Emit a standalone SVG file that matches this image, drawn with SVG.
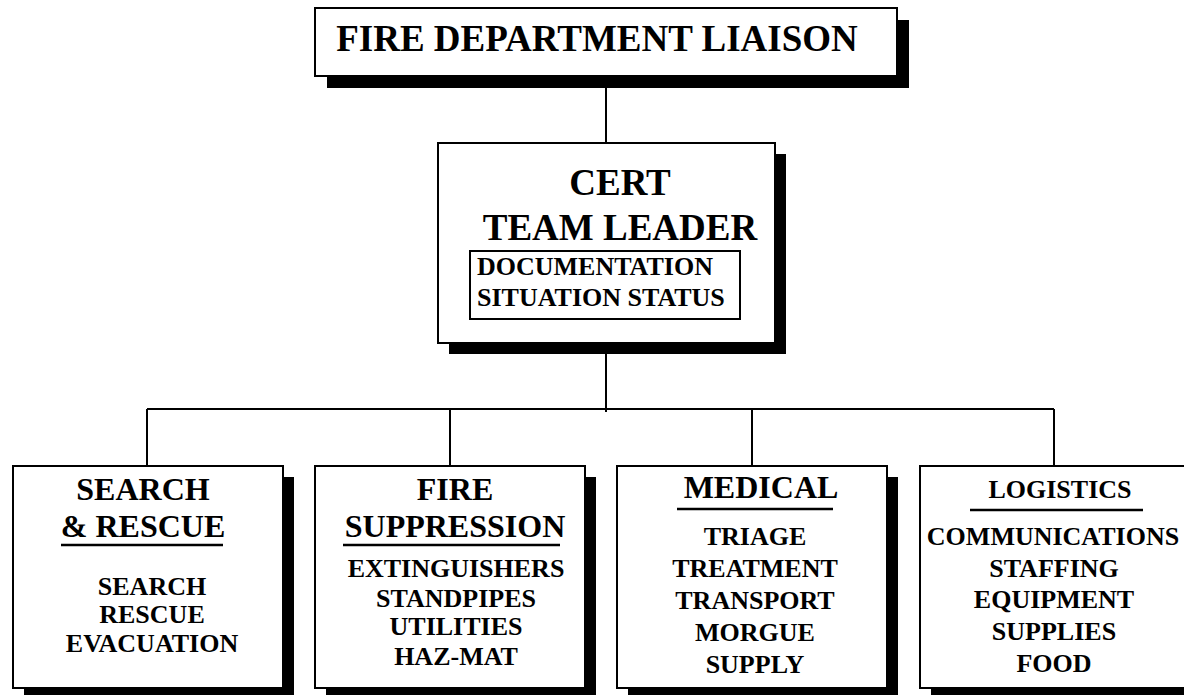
<svg xmlns="http://www.w3.org/2000/svg" width="1184" height="695" viewBox="0 0 1184 695">
<style>
.box{fill:#fff;stroke:#000;stroke-width:2}
.sh{fill:#000}
.t{font-family:"Liberation Serif","Times New Roman",serif;font-weight:bold;fill:#000}
.c{text-anchor:middle}
.h{font-size:32px}
.i{font-size:26px}
.ul{stroke:#000;stroke-width:2.5}
.ln{stroke:#000;stroke-width:2;fill:none}
</style>
<rect width="1184" height="695" fill="#fff"/>
<g id="connectors">
<line class="ln" x1="606" y1="88" x2="606" y2="143"/>
<line class="ln" x1="606" y1="354" x2="606" y2="412"/>
<line class="ln" x1="147" y1="409" x2="1054" y2="409"/>
<line class="ln" x1="147" y1="409" x2="147" y2="466"/>
<line class="ln" x1="450" y1="409" x2="450" y2="466"/>
<line class="ln" x1="752" y1="409" x2="752" y2="466"/>
<line class="ln" x1="1054" y1="409" x2="1054" y2="466"/>
</g>
<g id="liaison">
<rect class="sh" x="327" y="20" width="582" height="68"/>
<rect class="box" x="315" y="8" width="582" height="68"/>
<text class="t c" x="597" y="51" font-size="37">FIRE DEPARTMENT LIAISON</text>
</g>
<g id="leader">
<rect class="sh" x="449" y="154" width="337" height="200"/>
<rect class="box" x="438" y="143" width="337" height="200"/>
<text class="t c" x="620" y="195" font-size="37">CERT</text>
<text class="t c" x="620" y="240" font-size="37">TEAM LEADER</text>
<rect class="box" x="470" y="251" width="270" height="68"/>
<text class="t" x="477" y="275" font-size="26">DOCUMENTATION</text>
<text class="t" x="477" y="306" font-size="26">SITUATION STATUS</text>
</g>
<g id="search">
<rect class="sh" x="24" y="477" width="270" height="222"/>
<rect class="box" x="13" y="466" width="270" height="222"/>
<text class="t c h" x="143" y="500">SEARCH</text>
<text class="t c h" x="143" y="537">&amp; RESCUE</text>
<line class="ul" x1="61" y1="545" x2="223" y2="545"/>
<text class="t c i" x="152" y="595">SEARCH</text>
<text class="t c i" x="152" y="623">RESCUE</text>
<text class="t c i" x="152" y="652">EVACUATION</text>
</g>
<g id="fire">
<rect class="sh" x="326" y="477" width="270" height="222"/>
<rect class="box" x="315" y="466" width="270" height="222"/>
<text class="t c h" x="455" y="500">FIRE</text>
<text class="t c h" x="455" y="537">SUPPRESSION</text>
<line class="ul" x1="343" y1="545" x2="560" y2="545"/>
<text class="t c i" x="456" y="577">EXTINGUISHERS</text>
<text class="t c i" x="456" y="607">STANDPIPES</text>
<text class="t c i" x="456" y="635">UTILITIES</text>
<text class="t c i" x="456" y="665">HAZ-MAT</text>
</g>
<g id="medical">
<rect class="sh" x="628" y="477" width="270" height="222"/>
<rect class="box" x="617" y="466" width="270" height="222"/>
<text class="t c h" x="761" y="498">MEDICAL</text>
<line class="ul" x1="677" y1="509" x2="833" y2="509"/>
<text class="t c i" x="755" y="545">TRIAGE</text>
<text class="t c i" x="755" y="577">TREATMENT</text>
<text class="t c i" x="755" y="609">TRANSPORT</text>
<text class="t c i" x="755" y="641">MORGUE</text>
<text class="t c i" x="755" y="673">SUPPLY</text>
</g>
<g id="logistics">
<rect class="sh" x="931" y="477" width="270" height="222"/>
<rect class="box" x="920" y="466" width="270" height="222"/>
<text class="t c i" x="1060" y="498">LOGISTICS</text>
<line class="ul" x1="970" y1="510" x2="1143" y2="510"/>
<text class="t c i" x="1053" y="545">COMMUNICATIONS</text>
<text class="t c i" x="1054" y="577">STAFFING</text>
<text class="t c i" x="1054" y="608">EQUIPMENT</text>
<text class="t c i" x="1054" y="640">SUPPLIES</text>
<text class="t c i" x="1054" y="672">FOOD</text>
</g>
</svg>
